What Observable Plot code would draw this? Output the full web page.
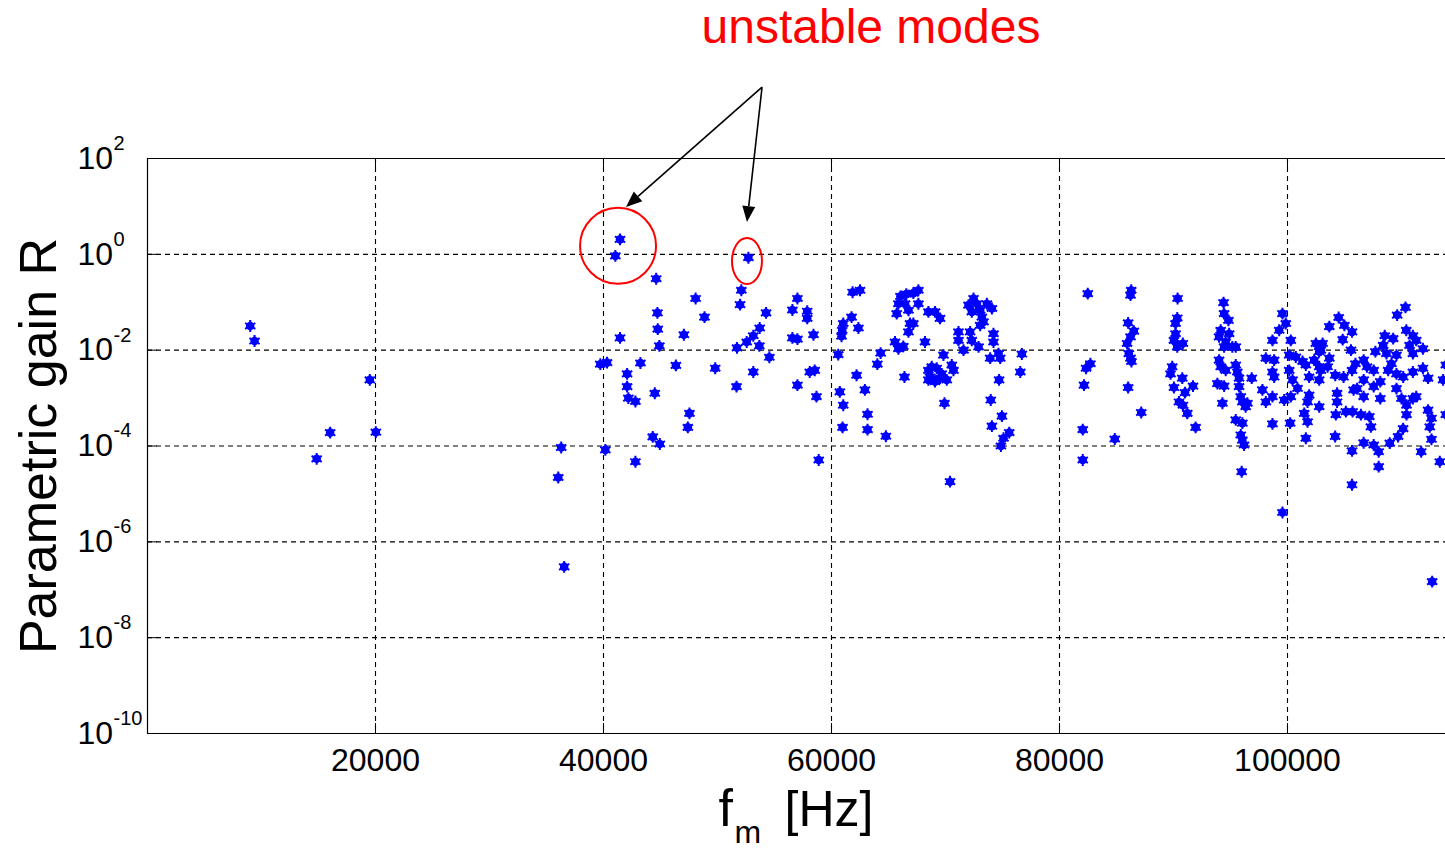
<!DOCTYPE html>
<html><head><meta charset="utf-8">
<script src="https://cdn.jsdelivr.net/npm/d3@7"></script>
<script src="https://cdn.jsdelivr.net/npm/@observablehq/plot@0.6"></script>
<style>
html,body{margin:0;padding:0;background:#fff;}
#chart{width:1445px;height:850px;overflow:hidden;}
</style></head><body><div id="chart"></div>
<script>
// Mode frequencies (Hz) and parametric gain R
const freqHz = [
  9010, 9390, 19500, 16020, 20030, 14840,
  41450, 41040, 44620, 44730, 44760, 44900, 47050, 41450, 39720, 40310, 43240, 46350, 42070, 42070,
  42180, 42800, 44500, 44320, 44940, 36290, 40160, 42800, 36030, 36550,
  48080, 48860, 49800, 47540, 47400, 52090, 51980, 54260, 53700, 53140, 52560, 51710, 53670, 54550,
  53140, 51670, 57010, 56570, 57870, 57870, 58420, 56570, 57010, 58530, 58090, 57010, 58680, 58880, 52710,
  61850, 62500, 61760, 61030, 60940, 60880, 62360, 60590, 62200, 60730, 62930, 61030, 63160, 60970,
  63160, 64770, 64310, 64020, 66050, 66560, 67180, 67620, 65870, 66450, 65720, 66750, 67620, 66890,
  66750, 67180, 65570, 65870, 66300, 68200, 68500, 66400, 68500, 68500,
  69080, 69520, 69820, 68790, 69230, 68640, 69080, 69520, 70110, 70550, 70700, 69670, 69910, 70400,
  72460, 72020, 72750, 72310, 73040, 73630, 74070, 73190, 73330, 73040, 71140, 71140, 71580, 72160,
  72310, 72900, 74210, 74210, 73920, 74650, 74800, 76700, 76560, 74700, 73970, 74950, 74070, 75590,
  75090, 74860,
  82480, 86290, 86230, 90360, 86020, 86520, 86230, 85930, 86080, 86230, 86310, 90330, 90180, 90180,
  90040, 90330, 90820, 82710, 82330, 82150, 86020, 87170, 82040, 84850, 82040, 89890, 89740, 90770,
  90040, 91710, 91010, 90480, 90830, 91210, 91940,
  94390, 94440, 94820, 94140, 94000, 94880, 94580, 94440, 95160, 95460, 94000, 94140, 94580, 95460,
  95600, 95750, 93850, 94440, 96860, 95750, 94290, 95900, 96040, 96330, 96480, 95460, 96040, 95900,
  96040, 96190, 95980, 98680, 99560, 99560, 99850, 99270, 98680, 100290, 98100, 98830, 100150, 100730,
  101320, 101610, 102490, 102920, 102780, 101900, 98680, 98830, 100150, 100440, 100880, 97800, 98100,
  98680, 99710, 100290, 101900, 101760, 101470, 101760, 101610, 102780, 100230,
  110350, 109620, 104490, 103670, 104990, 105660, 104840, 103080, 102780, 102340, 105570, 103670, 103520,
  102780, 102930, 104190, 104920, 105660, 105960, 106680, 106970, 106680, 107710, 107560, 108140, 107560,
  106100, 106680, 105800, 104350, 104350, 108140, 104240, 105120, 105710, 106440, 107180, 107320, 104180,
  105660, 106680, 107560, 108000, 108000, 105660, 108970, 109700, 110140, 108530, 108390, 109270, 108680,
  109560, 109120, 110420, 111000, 110710, 111290, 111000, 111880, 108830, 109560, 110150, 111000, 111880,
  112330, 109560, 110000, 110440, 110440, 111000, 111290, 112330, 112630, 112480, 112630, 111730, 113360,
  113890, 113650, 113890, 112690
];
const gainR = [
  3.2e-2, 1.55e-2, 2.4e-3, 1.9e-4, 1.95e-4, 5.4e-5,
  2.05, 0.93, 0.31, 6.0e-2, 2.75e-2, 1.23e-2, 2.1e-2, 1.8e-2, 5.1e-3, 5.5e-3, 5.4e-3, 4.8e-3, 3.2e-3, 1.74e-3,
  1.0e-3, 8.5e-4, 1.26e-3, 1.55e-4, 1.1e-4, 9.3e-5, 8.3e-5, 4.7e-5, 2.2e-5, 3.0e-7,
  0.12, 4.9e-2, 4.2e-3, 4.8e-4, 2.45e-4, 0.178, 8.9e-2, 6.0e-2, 2.9e-2, 2.0e-2, 1.48e-2, 1.12e-2, 1.23e-2, 7.1e-3,
  3.5e-3, 1.74e-3, 0.12, 6.9e-2, 6.5e-2, 4.6e-2, 2.1e-2, 1.8e-2, 1.7e-2, 3.8e-3, 3.5e-3, 1.86e-3, 1.07e-3, 5.1e-5, 0.85,
  0.162, 0.178, 4.9e-2, 3.6e-2, 2.6e-2, 1.95e-2, 2.9e-2, 8.1e-3, 3.0e-3, 1.35e-3, 1.48e-3, 7.1e-4, 4.6e-4, 2.45e-4,
  2.2e-4, 1.6e-4, 8.7e-3, 5.1e-3, 0.133, 0.148, 0.155, 0.178, 9.3e-2, 9.3e-2, 5.8e-2, 6.8e-2, 9.3e-2, 3.6e-2,
  2.4e-2, 3.6e-2, 1.48e-2, 1.07e-2, 1.2e-2, 1.48e-2, 6.3e-2, 2.75e-3, 3.8e-3, 2.4e-3,
  6.3e-2, 4.6e-2, 7.9e-3, 4.5e-3, 4.2e-3, 2.75e-3, 2.2e-3, 2.6e-3, 2.4e-3, 4.9e-3, 3.8e-3, 3.2e-3, 7.8e-4, 1.8e-5,
  0.12, 8.7e-2, 9.3e-2, 6.3e-2, 6.8e-2, 9.3e-2, 7.4e-2, 4.9e-2, 3.9e-2, 3.3e-2, 2.4e-2, 1.6e-2, 1.0e-2, 2.4e-2,
  1.6e-2, 1.17e-2, 2.2e-2, 1.48e-2, 6.8e-3, 8.5e-3, 6.8e-3, 8.3e-3, 3.5e-3, 2.4e-3, 9.1e-4, 4.2e-4, 2.6e-4, 1.9e-4,
  1.45e-4, 1.0e-4,
  0.151, 0.178, 0.141, 0.12, 3.7e-2, 2.5e-2, 1.9e-2, 1.38e-2, 8.5e-3, 6.8e-3, 5.8e-3, 4.7e-2, 3.6e-2, 2.2e-2,
  1.6e-2, 1.17e-2, 1.38e-2, 5.2e-3, 4.2e-3, 1.86e-3, 1.66e-3, 5.0e-4, 2.2e-4, 1.4e-4, 5.1e-5, 4.5e-3, 3.2e-3, 2.6e-3,
  1.66e-3, 1.78e-3, 1.3e-3, 8.3e-4, 7.1e-4, 4.8e-4, 2.45e-4,
  9.8e-2, 5.8e-2, 4.2e-2, 2.6e-2, 1.9e-2, 2.2e-2, 1.48e-2, 1.17e-2, 1.17e-2, 1.17e-2, 6.2e-3, 4.5e-3, 3.8e-3, 4.9e-3,
  3.5e-3, 2.6e-3, 2.0e-3, 1.78e-3, 2.6e-3, 1.74e-3, 7.8e-4, 1.07e-3, 8.3e-4, 6.6e-4, 7.8e-4, 3.5e-4, 3.0e-4, 1.7e-4,
  1.33e-4, 1.05e-4, 2.9e-5, 2.9e-4, 4.1e-6, 5.8e-2, 3.6e-2, 2.6e-2, 1.6e-2, 1.6e-2, 6.8e-3, 6.2e-3, 7.9e-3, 7.2e-3,
  5.8e-3, 4.9e-3, 1.38e-2, 1.0e-2, 4.5e-3, 2.75e-3, 3.5e-3, 2.75e-3, 3.8e-3, 2.4e-3, 1.6e-3, 1.48e-3, 8.3e-4,
  1.07e-3, 9.1e-4, 1.07e-3, 1.15e-3, 8.3e-4, 4.8e-4, 3.2e-4, 1.45e-4, 6.6e-4, 3.0e-4,
  7.8e-2, 5.4e-2, 4.8e-2, 3.1e-2, 3.3e-2, 2.4e-2, 1.66e-2, 1.38e-2, 9.3e-3, 6.2e-3, 1.0e-2, 6.8e-3, 4.5e-3,
  2.4e-3, 3.8e-3, 3.0e-3, 2.75e-3, 3.8e-3, 5.2e-3, 6.2e-3, 4.5e-3, 2.4e-3, 9.3e-3, 3.8e-3, 2.2e-3, 1.74e-3,
  1.58e-3, 1.07e-3, 1.48e-3, 1.26e-3, 8.3e-4, 9.8e-4, 4.5e-4, 5.2e-4, 5.2e-4, 4.5e-4, 4.1e-4, 2.5e-4, 1.58e-4,
  7.9e-5, 1.17e-4, 1.05e-4, 7.6e-5, 3.7e-5, 1.55e-5, 1.15e-4, 1.58e-4, 2.3e-4, 2.0e-2, 1.26e-2, 1.74e-2, 8.5e-3,
  7.9e-3, 5.2e-3, 2.6e-2, 2.0e-2, 1.26e-2, 1.6e-2, 8.5e-3, 1.07e-2, 3.8e-3, 3.2e-3, 2.75e-3, 3.5e-3, 4.2e-3,
  2.6e-3, 1.58e-3, 9.8e-4, 7.1e-4, 4.5e-4, 9.8e-4, 1.07e-3, 5.6e-4, 3.8e-4, 2.5e-4, 1.38e-4, 7.6e-5, 4.7e-5,
  4.9e-3, 2.4e-3, 4.5e-4, 1.48e-7
];

// Axes
const xDomain = [0, 113860];
const yDomain = [1e-10, 1e2];
const xTicks = [20000, 40000, 60000, 80000, 100000];
const yTicks = [1e2, 1, 1e-2, 1e-4, 1e-6, 1e-8, 1e-10];
const yTickExponents = ["2", "0", "-2", "-4", "-6", "-8", "-10"];
const yTitle = "Parametric gain R";

// Annotation (data coordinates)
const noteText = [{f: 63465, R: 2.6e4, label: "unstable modes"}];
const ringCenters = [{f: 41320, R: 1.47}, {f: 52630, R: 0.71}];
const arrowTail = {f: 53950, R: 3.0e3};
const arrowTips = [{f: 42020, R: 9.5}, {f: 52630, R: 4.6}];

const points = freqHz.map((f, i) => ({f, R: gainR[i]}));
const arrows = arrowTips.map(t => ({f1: arrowTail.f, R1: arrowTail.R, f2: t.f, R2: t.R}));
const ringRadii = [[38, 38], [15, 23]];

const plotW = 1445, plotH = 850, mL = 147, mT = 158, mB = 117;
const innerW = plotW - mL, innerH = plotH - mT - mB;
const tickLen = 10;

const chart = Plot.plot({
  width: plotW, height: plotH,
  marginLeft: mL, marginRight: 0, marginTop: mT, marginBottom: mB,
  style: {fontFamily: "'Liberation Sans', Arial, sans-serif", background: "#fff", color: "#000"},
  x: {type: "linear", domain: xDomain, axis: null},
  y: {type: "log", domain: yDomain, axis: null},
  marks: [
    // grid
    Plot.ruleX(xTicks, {stroke: "#000", strokeDasharray: "5,4", strokeWidth: 1.1}),
    Plot.ruleY(yTicks.slice(1, -1), {stroke: "#000", strokeDasharray: "5,4", strokeWidth: 1.1}),
    // box
    Plot.ruleX([xDomain[0]], {stroke: "#000", strokeWidth: 1.2}),
    Plot.ruleY([yDomain[0]], {stroke: "#000", strokeWidth: 1.2}),
    Plot.ruleY([yDomain[1]], {stroke: "#000", strokeWidth: 1.2}),
    // inward ticks
    Plot.ruleY(yTicks, {insetRight: innerW - tickLen, stroke: "#000"}),
    Plot.ruleX(xTicks, {insetTop: innerH - tickLen, stroke: "#000"}),
    Plot.ruleX(xTicks, {insetBottom: innerH - tickLen, stroke: "#000"}),
    // tick labels
    Plot.text(xTicks, {x: d => d, frameAnchor: "bottom", dy: 37, lineAnchor: "bottom", textAnchor: "middle", text: d => String(d), fontSize: 32, fill: "#000"}),
    Plot.text(yTicks, {y: d => d, frameAnchor: "left", dx: -70, textAnchor: "start", text: () => "10", fontSize: 32, fill: "#000"}),
    Plot.text(yTicks, {y: d => d, frameAnchor: "left", dx: -34, dy: -15, textAnchor: "start", text: (d, i) => yTickExponents[i], fontSize: 20, fill: "#000"}),
    // axis titles
    Plot.text([yTitle], {frameAnchor: "left", dx: -92, rotate: -90, lineAnchor: "bottom", textAnchor: "middle", text: d => d, fontSize: 52, fill: "#000"}),
    Plot.text(["f"], {frameAnchor: "bottom", dx: -78, dy: 92, lineAnchor: "bottom", textAnchor: "start", text: d => d, fontSize: 52, fill: "#000"}),
    Plot.text(["m"], {frameAnchor: "bottom", dx: -62, dy: 109, lineAnchor: "bottom", textAnchor: "start", text: d => d, fontSize: 32, fill: "#000"}),
    Plot.text(["[Hz]"], {frameAnchor: "bottom", dx: -12, dy: 92, lineAnchor: "bottom", textAnchor: "start", text: d => d, fontSize: 50, fill: "#000"}),
    // data
    Plot.dot(points, {x: "f", y: "R", r: 4.3, fill: "#0000ff", stroke: "none"}),
    Plot.dot(points, {x: "f", y: "R", symbol: "asterisk", r: 5.6, stroke: "#0000ff", strokeWidth: 2, fill: "none"}),
    // annotation
    Plot.text(noteText, {x: "f", y: "R", text: "label", lineAnchor: "bottom", fontSize: 48, fill: "#ff0000"}),
    Plot.dot(ringCenters, {x: "f", y: "R", render: (index, scales, values) => {
      const g = d3.create("svg:g");
      for (const i of index) {
        g.append("ellipse").attr("cx", values.x[i]).attr("cy", values.y[i])
          .attr("rx", ringRadii[i][0]).attr("ry", ringRadii[i][1])
          .attr("fill", "none").attr("stroke", "#ff0000").attr("stroke-width", 2);
      }
      return g.node();
    }}),
    Plot.link(arrows, {x1: "f1", y1: "R1", x2: "f2", y2: "R2", render: (index, scales, values) => {
      const g = d3.create("svg:g");
      const L = 16, W = 6.5;
      for (const i of index) {
        const x1 = values.x1[i], y1 = values.y1[i], x2 = values.x2[i], y2 = values.y2[i];
        const a = Math.atan2(y2 - y1, x2 - x1);
        const bx = x2 - L * Math.cos(a), by = y2 - L * Math.sin(a);
        g.append("line").attr("x1", x1).attr("y1", y1).attr("x2", bx).attr("y2", by)
          .attr("stroke", "#000").attr("stroke-width", 1.6);
        g.append("path")
          .attr("d", `M${x2},${y2}L${bx - W * Math.sin(a)},${by + W * Math.cos(a)}L${bx + W * Math.sin(a)},${by - W * Math.cos(a)}Z`)
          .attr("fill", "#000");
      }
      return g.node();
    }})
  ]
});
document.getElementById("chart").appendChild(chart);
</script>
</body></html>
